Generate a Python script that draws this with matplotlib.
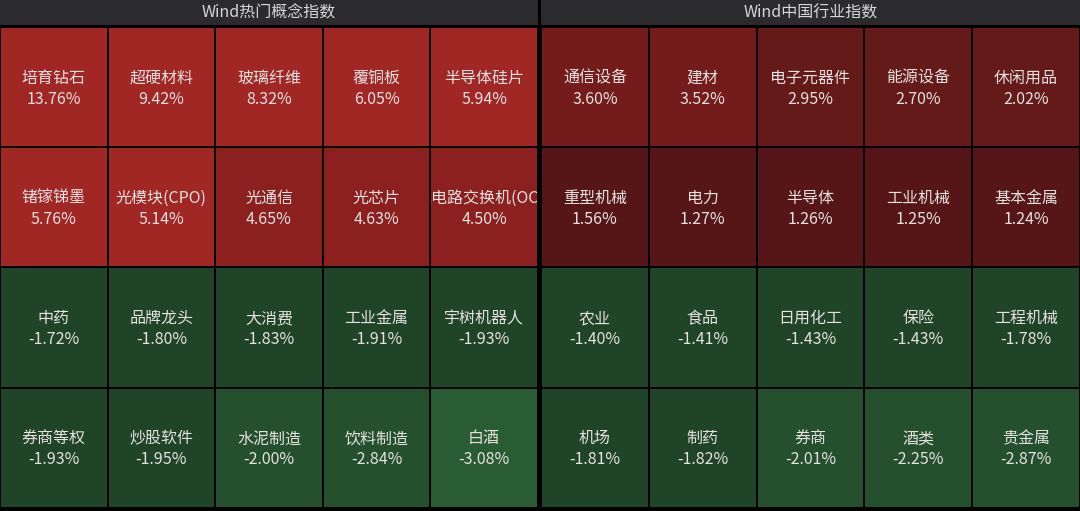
import matplotlib
matplotlib.use("Agg")
import matplotlib.pyplot as plt
from matplotlib.patches import Rectangle

plt.rcParams['font.family'] = ['Noto Sans CJK SC', 'DejaVu Sans']

panel_titles = ["Wind热门概念指数", "Wind中国行业指数"]

concept_names = ["培育钻石", "超硬材料", "玻璃纤维", "覆铜板", "半导体硅片",
                 "锗镓锑墨", "光模块(CPO)", "光通信", "光芯片", "光电路交换机(OCS)",
                 "中药", "品牌龙头", "大消费", "工业金属", "宇树机器人",
                 "券商等权", "炒股软件", "水泥制造", "饮料制造", "白酒"]
concept_values = [13.76, 9.42, 8.32, 6.05, 5.94,
                  5.76, 5.14, 4.65, 4.63, 4.50,
                  -1.72, -1.80, -1.83, -1.91, -1.93,
                  -1.93, -1.95, -2.00, -2.84, -3.08]

industry_names = ["通信设备", "建材", "电子元器件", "能源设备", "休闲用品",
                  "重型机械", "电力", "半导体", "工业机械", "基本金属",
                  "农业", "食品", "日用化工", "保险", "工程机械",
                  "机场", "制药", "券商", "酒类", "贵金属"]
industry_values = [3.60, 3.52, 2.95, 2.70, 2.02,
                   1.56, 1.27, 1.26, 1.25, 1.24,
                   -1.40, -1.41, -1.43, -1.43, -1.78,
                   -1.81, -1.82, -2.01, -2.25, -2.87]

red_steps = ["#561617", "#561617", "#651a1a", "#741c1c", "#8b201f", "#a02724"]
green_steps = ["#1f4428", "#1f4428", "#24502e", "#2a5c33"]


def cell_color(v):
    k = int(abs(v))
    if v >= 0:
        return red_steps[min(k, len(red_steps) - 1)]
    return green_steps[min(k, len(green_steps) - 1)]


W, H = 1080, 511
fig = plt.figure(figsize=(W / 100, H / 100), dpi=100, facecolor="black")
ax = fig.add_axes([0, 0, 1, 1])
ax.set_xlim(0, W)
ax.set_ylim(H, 0)
ax.axis("off")
ax.set_facecolor("black")

panels = [(0, 538, concept_names, concept_values),
          (541, 1080, industry_names, industry_values)]
header_h = 26
top = 27
bottom = 508
ncol, nrow = 5, 4
row_h = (bottom - top) / nrow
gap = 1.0

for (x0, x1, names, values), title in zip(panels, panel_titles):
    ax.add_patch(Rectangle((x0, 0.5), x1 - x0, header_h - 1, facecolor="#2b2b2d",
                           edgecolor="none"))
    ax.text((x0 + x1) / 2, 13.5, title, color="#d6d6d6", fontsize=11.5,
            ha="center", va="center")
    col_w = (x1 - x0) / ncol
    for i, (name, val) in enumerate(zip(names, values)):
        r, c = divmod(i, ncol)
        cx0 = x0 + c * col_w
        cy0 = top + r * row_h
        rect = Rectangle((cx0 + gap, cy0 + gap), col_w - 2 * gap, row_h - 2 * gap,
                         facecolor=cell_color(val), edgecolor="none")
        ax.add_patch(rect)
        xc = cx0 + col_w / 2
        yc = cy0 + row_h / 2
        t = ax.text(xc, yc - 9, name, color="#e6e0e0", fontsize=11.5,
                    ha="center", va="center")
        t.set_clip_on(True)
        t.set_clip_path(rect)
        ax.text(xc, yc + 12, f"{val:.2f}%", color="#e6e0e0", fontsize=11.5,
                ha="center", va="center")

fig.savefig("out.png", dpi=100, facecolor="black")
